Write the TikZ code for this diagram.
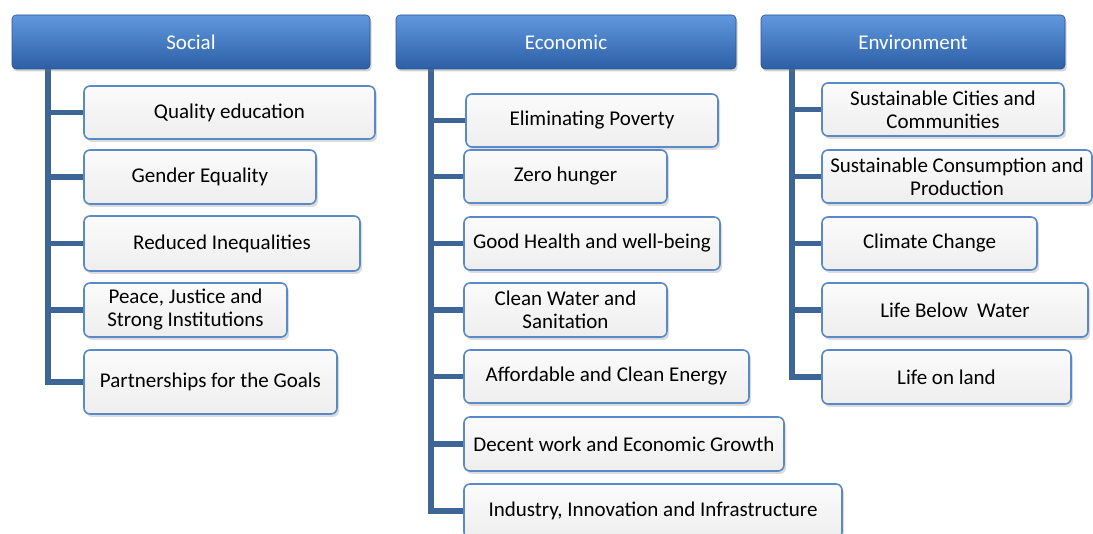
\documentclass[tikz,border=0pt]{standalone}
\usepackage{fontspec}
\setmainfont{Carlito}
\usetikzlibrary{shadows,backgrounds}
\definecolor{headtop}{HTML}{6198DD}
\definecolor{headbot}{HTML}{2C5FA6}
\definecolor{headedge}{HTML}{2A568F}
\definecolor{leafedge}{HTML}{5A89C7}
\definecolor{leaftop}{HTML}{FBFBFB}
\definecolor{leafbot}{HTML}{EEEEEE}
\definecolor{trunk}{HTML}{3D6596}
\tikzset{
  header/.style={draw=headedge, line width=0.6pt, rounded corners=4pt,
    top color=headtop, bottom color=headbot, text=white,
    inner sep=0pt, align=center,
    drop shadow={opacity=0.35, shadow xshift=1.5pt, shadow yshift=-2.5pt}},
  leaf/.style={draw=leafedge, line width=1.6pt, rounded corners=6pt,
    top color=leaftop, bottom color=leafbot, text=black,
    inner sep=0pt, align=center,
    drop shadow={opacity=0.28, shadow xshift=2pt, shadow yshift=-3pt}},
  conn/.style={draw=trunk, line width=5.5pt}
}
\begin{document}
\begin{tikzpicture}[x=1pt, y=-1pt,
  every node/.append style={font=\fontsize{21}{23}\selectfont}]
\useasboundingbox (0,0) rectangle (1093,534);
\clip (0,0) rectangle (1093,534);

% trunk anchor points below each header
\coordinate (ts) at (48,69);
\coordinate (te) at (431,69);
\coordinate (tv) at (792,69);

% ---------- headers ----------
\node[header, minimum width=358, minimum height=54] (hs) at (191,42) {Social};
\node[header, minimum width=340, minimum height=54] (he) at (566,42) {Economic};
\node[header, minimum width=304, minimum height=54] (hv) at (913,42) {Environment};

% ---------- Social ----------
\node[leaf, minimum width=291, minimum height=53] (s1) at (229.5,112.5) {Quality education};
\node[leaf, minimum width=232, minimum height=54] (s2) at (200,177) {Gender Equality};
\node[leaf, minimum width=276, minimum height=55] (s3) at (222,243.5) {Reduced Inequalities};
\node[leaf, minimum width=203, minimum height=54] (s4) at (185.5,310) {Peace, Justice and\\Strong Institutions};
\node[leaf, minimum width=253, minimum height=64] (s5) at (210.5,382) {Partnerships for the Goals};

% ---------- Economic ----------
\node[leaf, minimum width=252, minimum height=53] (e1) at (592,120.5) {Eliminating Poverty};
\node[leaf, minimum width=203, minimum height=53] (e2) at (565.5,176.5) {Zero hunger};
\node[leaf, minimum width=256, minimum height=53] (e3) at (592,243.5) {Good Health and well-being};
\node[leaf, minimum width=203, minimum height=54] (e4) at (565.5,310) {Clean Water and\\Sanitation};
\node[leaf, minimum width=285, minimum height=53] (e5) at (606.5,376.5) {Affordable and Clean Energy};
\node[leaf, minimum width=320, minimum height=54] (e6) at (624,444) {Decent work and Economic Growth};
\node[leaf, minimum width=378, minimum height=54] (e7) at (653,511) {Industry, Innovation and Infrastructure};

% ---------- Environment ----------
\node[leaf, minimum width=242, minimum height=53] (v1) at (943,109.5) {Sustainable Cities and\\Communities};
\node[leaf, minimum width=270, minimum height=53] (v2) at (957,176.5) {Sustainable Consumption and\\Production};
\node[leaf, minimum width=215, minimum height=53] (v3) at (929.5,243.5) {Climate Change};
\node[leaf, minimum width=266, minimum height=54] (v4) at (955,310) {Life Below~ Water};
\node[leaf, minimum width=249, minimum height=54] (v5) at (946.5,377) {Life on land};

% ---------- connectors, behind the boxes ----------
\begin{pgfonlayer}{background}
\draw[conn] (ts) |- (s5.west);
\foreach \i in {1,...,4} \draw[conn] (ts |- s\i.west) -- (s\i.west);
\draw[conn] (te) |- (e7.west);
\foreach \i in {1,...,6} \draw[conn] (te |- e\i.west) -- (e\i.west);
\draw[conn] (tv) |- (v5.west);
\foreach \i in {1,...,4} \draw[conn] (tv |- v\i.west) -- (v\i.west);
\end{pgfonlayer}
\end{tikzpicture}
\end{document}
